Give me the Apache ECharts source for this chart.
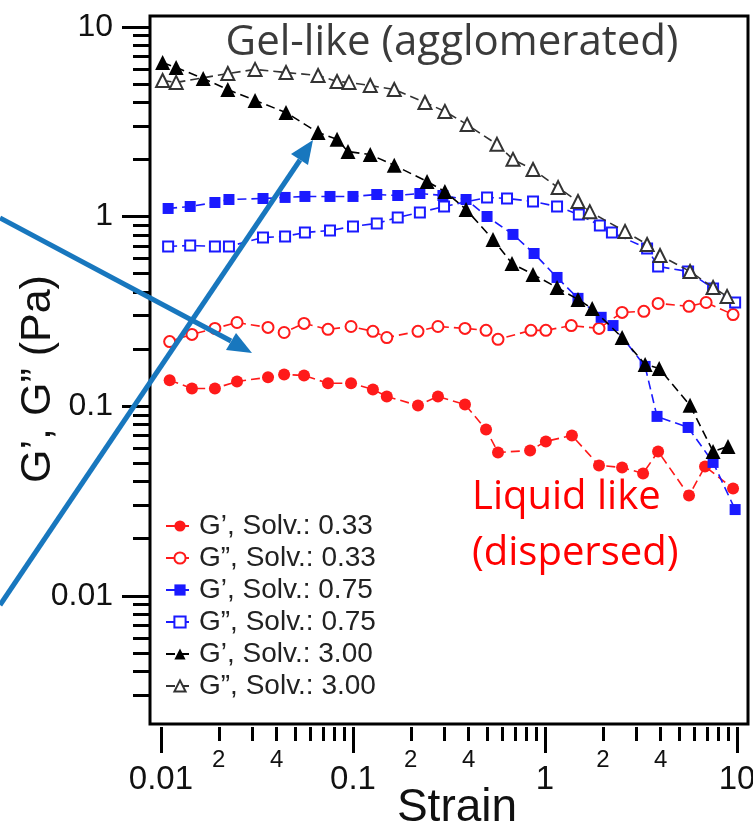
<!DOCTYPE html>
<html>
<head>
<meta charset="utf-8">
<script src="https://cdn.jsdelivr.net/npm/echarts@6/dist/echarts.min.js"></script>
<style>
html,body{margin:0;padding:0;background:#fff;}
#chart{width:753px;height:831px;}
</style>
</head>
<body>
<div id="chart"></div>
<script>
// ---- data ----
const redGpX  = [0.0111,0.0145,0.0191,0.0249,0.0361,0.0438,0.0556,0.0741,0.0977,0.127,0.150,0.218,0.277,0.383,0.493,0.569,0.836,1.01,1.38,1.91,2.52,3.24,3.88,5.62,6.81,9.53];
const redGpY  = [0.137,0.124,0.124,0.135,0.142,0.147,0.145,0.132,0.132,0.1225,0.1125,0.1008,0.1125,0.102,0.0754,0.057,0.0584,0.0652,0.0701,0.0487,0.0475,0.0442,0.0577,0.0338,0.0481,0.0368];
const redGppX = [0.0111,0.0145,0.0191,0.0249,0.0361,0.0438,0.0556,0.0741,0.0977,0.127,0.150,0.218,0.277,0.383,0.493,0.569,0.845,1.01,1.37,1.91,2.52,3.27,3.88,5.62,6.90,9.53];
const redGppY = [0.219,0.239,0.257,0.276,0.260,0.2445,0.273,0.254,0.263,0.248,0.230,0.248,0.263,0.257,0.251,0.225,0.251,0.251,0.266,0.257,0.312,0.316,0.348,0.336,0.352,0.304];
const blueGpX  = [0.0109,0.0142,0.0191,0.0226,0.034,0.0443,0.0562,0.0759,0.1,0.133,0.171,0.223,0.294,0.388,0.499,0.681,0.877,1.155,1.485,1.96,2.26,3.32,3.83,5.56,7.50,9.77];
const blueGpY  = [1.102,1.129,1.185,1.229,1.244,1.26,1.275,1.275,1.275,1.306,1.29,1.322,1.29,1.229,1.0,0.804,0.638,0.477,0.37,0.294,0.266,0.162,0.0883,0.0772,0.0505,0.0285];
const blueGppX = [0.0109,0.0142,0.0191,0.0226,0.034,0.0443,0.0562,0.0759,0.1,0.133,0.171,0.223,0.298,0.499,0.634,0.866,1.155,1.50,1.93,2.23,3.40,3.88,5.56,7.50,9.77];
const blueGppY = [0.695,0.703,0.695,0.695,0.775,0.785,0.823,0.844,0.886,0.919,0.988,1.05,1.129,1.26,1.244,1.2,1.129,1.024,0.897,0.823,0.678,0.545,0.513,0.417,0.352];
const blackGpX  = [0.0102,0.012,0.0166,0.0223,0.0309,0.0448,0.0658,0.0826,0.0942,0.123,0.164,0.243,0.301,0.388,0.536,0.673,0.866,1.155,1.485,1.76,2.52,3.32,3.93,5.69,7.5,8.97];
const blackGpY  = [6.48,6.10,5.34,4.67,4.09,3.53,2.77,2.55,2.20,2.12,1.86,1.53,1.355,1.089,0.756,0.565,0.495,0.422,0.365,0.327,0.230,0.166,0.158,0.101,0.0577,0.0613];
const blackGppX = [0.0102,0.012,0.0223,0.0309,0.0448,0.0658,0.0826,0.0953,0.123,0.164,0.237,0.301,0.393,0.562,0.681,0.866,1.17,1.485,1.71,2.61,3.40,3.97,5.69,7.5,8.87];
const blackGppY = [5.21,5.09,5.67,5.96,5.74,5.54,5.15,5.09,4.90,4.67,3.99,3.58,3.05,2.40,2.00,1.77,1.42,1.2,1.06,0.834,0.712,0.623,0.513,0.422,0.379];

const seriesNames = ['G’, Solv.: 0.33','G”, Solv.: 0.33','G’, Solv.: 0.75','G”, Solv.: 0.75','G’, Solv.: 3.00','G”, Solv.: 3.00'];

const xMajorTicks  = [0.01, 0.1, 1, 10];
const xMajorLabels = ['0.01','0.1','1','10'];
const xMinorTicks  = [0.02,0.03,0.04,0.05,0.06,0.07,0.08,0.09,0.2,0.3,0.4,0.5,0.6,0.7,0.8,0.9,2,3,4,5,6,7,8,9];
const xMinorLabelTicks = [0.02,0.04,0.2,0.4,2,4];
const xMinorLabels     = ['2','4','2','4','2','4'];
const yMajorTicks  = [0.01, 0.1, 1, 10];
const yMajorLabels = ['0.01','0.1','1','10'];
const yMinorTicks  = [0.003,0.004,0.005,0.006,0.007,0.008,0.009,0.02,0.03,0.04,0.05,0.06,0.07,0.08,0.09,0.2,0.3,0.4,0.5,0.6,0.7,0.8,0.9,2,3,4,5,6,7,8,9];
const xMin = 0.00877, xMax = 11.4, yMin = 0.00211, yMax = 11.4;

function pairs(xs, ys){ return xs.map((v,i)=>[v, ys[i]]); }
function labelFor(ticks, labels){
  return function(v){
    for (let i=0;i<ticks.length;i++){ if (Math.abs(v-ticks[i])/ticks[i] < 1e-6) return labels[i]; }
    return '';
  };
}

const chart = echarts.init(document.getElementById('chart'), null, {renderer:'canvas'});
const AXFONT = 'Liberation Sans';
const dash = [9,5];

function mkSeries(name, xs, ys, color, symbol, size, z){
  return {
    name, type:'line', xAxisIndex:0, yAxisIndex:0, data: pairs(xs, ys),
    symbol, symbolSize:size, showSymbol:true, z,
    lineStyle:{color, width:1.6, type:dash},
    itemStyle:{color, borderColor:color, borderWidth: symbol.indexOf('empty')===0 ? 2 : 0},
    emphasis:{disabled:true}, animation:false
  };
}

const option = {
  animation:false,
  grid:{left:150, top:16, right:5, bottom:107, show:true, borderColor:'#000', borderWidth:3,
        backgroundColor:'transparent', containLabel:false, outerBoundsMode:'none'},
  legend:{
    orient:'vertical', left:160, top:507, itemWidth:28, itemHeight:14, itemGap:4,
    textStyle:{fontFamily:AXFONT, fontSize:28, color:'#222'},
    data: seriesNames
  },
  xAxis:[
    {type:'log', logBase:10, min:xMin, max:xMax, position:'bottom', offset:3,
     axisLine:{show:false}, splitLine:{show:false},
     axisTick:{show:true, length:26, lineStyle:{color:'#000', width:3}, customValues:xMajorTicks},
     axisLabel:{show:true, margin:36, fontFamily:AXFONT, fontSize:33, color:'#111', customValues:xMajorTicks,
       formatter: labelFor(xMajorTicks, xMajorLabels)},
     name:'Strain', nameLocation:'middle', nameGap:58, nameMoveOverlap:false,
     nameTextStyle:{fontFamily:AXFONT, fontSize:46, color:'#111', padding:[0,0,0,16]}
    },
    {type:'log', logBase:10, min:xMin, max:xMax, position:'bottom', offset:3,
     axisLine:{show:false}, splitLine:{show:false},
     axisTick:{show:true, length:14, lineStyle:{color:'#000', width:3}, customValues:xMinorTicks},
     axisLabel:{show:true, margin:21, fontFamily:AXFONT, fontSize:24, color:'#111', customValues:xMinorLabelTicks,
       formatter: labelFor(xMinorLabelTicks, xMinorLabels)}
    }
  ],
  yAxis:[
    {type:'log', logBase:10, min:yMin, max:yMax, position:'left', offset:0,
     axisLine:{show:false}, splitLine:{show:false},
     axisTick:{show:true, length:28, lineStyle:{color:'#000', width:3}, customValues:yMajorTicks},
     axisLabel:{show:true, margin:37, fontFamily:AXFONT, fontSize:32, color:'#111', customValues:yMajorTicks,
       formatter: labelFor(yMajorTicks, yMajorLabels)},
     name:'G’, G” (Pa)', nameLocation:'middle', nameGap:90, nameRotate:90, nameMoveOverlap:false,
     nameTextStyle:{fontFamily:AXFONT, fontSize:43, color:'#111', padding:[0,18,0,0]}
    },
    {type:'log', logBase:10, min:yMin, max:yMax, position:'left', offset:0,
     axisLine:{show:false}, splitLine:{show:false},
     axisTick:{show:true, length:17, lineStyle:{color:'#000', width:3}, customValues:yMinorTicks},
     axisLabel:{show:false}
    }
  ],
  series:[
    mkSeries(seriesNames[0], redGpX, redGpY, '#ff1a1a', 'circle', 12, 2),
    mkSeries(seriesNames[1], redGppX, redGppY, '#ff1a1a', 'emptyCircle', 11, 2),
    mkSeries(seriesNames[2], blueGpX, blueGpY, '#1a1aff', 'rect', 11, 3),
    mkSeries(seriesNames[3], blueGppX, blueGppY, '#1a1aff', 'emptyRect', 10, 3),
    mkSeries(seriesNames[4], blackGpX, blackGpY, '#000000', 'triangle', 15, 4),
    mkSeries(seriesNames[5], blackGppX, blackGppY, '#333333', 'emptyTriangle', 13, 4)
  ],
  graphic:[
    {type:'text', style:{text:'Gel-like (agglomerated)', x:452, y:43, align:'center', verticalAlign:'middle',
      font:'42px "Open Sans"', fill:'#3b3b3b'}, z:10},
    {type:'text', style:{text:'Liquid like', x:472, y:498, verticalAlign:'middle', font:'40px "Open Sans"', fill:'#ff0000'}, z:10},
    {type:'text', style:{text:'(dispersed)', x:472, y:554, verticalAlign:'middle', font:'40px "Open Sans"', fill:'#ff0000'}, z:10},
    {type:'line', shape:{x1:0, y1:218, x2:231, y2:341}, style:{stroke:'#1877be', lineWidth:5}, z:20},
    {type:'polygon', shape:{points:[[252,353],[226,350],[236,333]]}, style:{fill:'#1877be'}, z:20},
    {type:'line', shape:{x1:0, y1:605, x2:300, y2:160}, style:{stroke:'#1877be', lineWidth:5}, z:20},
    {type:'polygon', shape:{points:[[313,140],[308,165],[291,154]]}, style:{fill:'#1877be'}, z:20}
  ]
};
chart.setOption(option);
</script>
</body>
</html>
